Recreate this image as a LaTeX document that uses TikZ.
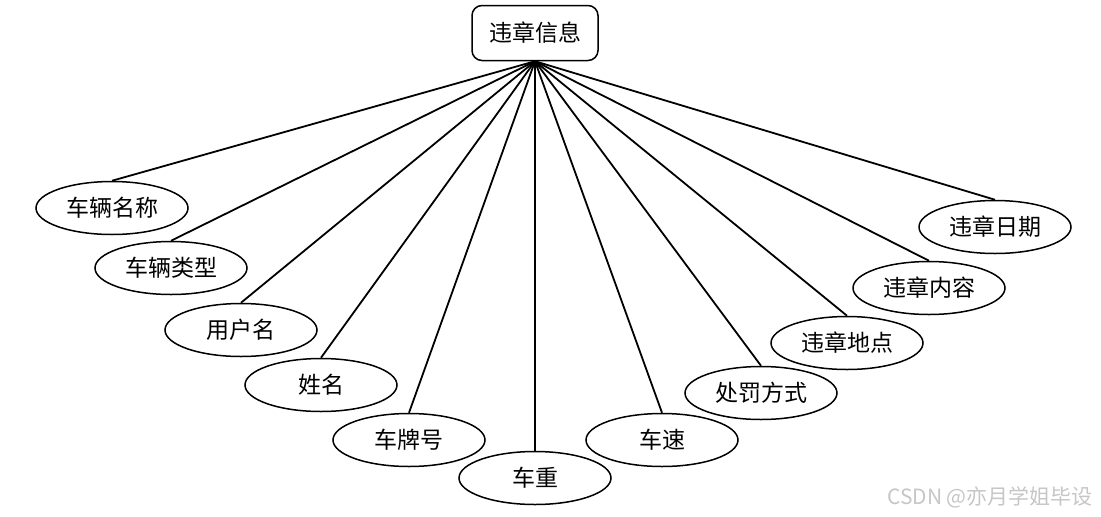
\documentclass[tikz,border=0pt]{standalone}
\usepackage{fontspec}
\newfontfamily\cjk{Noto Sans CJK SC}
\usetikzlibrary{positioning, shapes.geometric}

\begin{document}
\begin{tikzpicture}[
  x=1pt, y=-1pt,
  font=\cjk\fontsize{23}{27}\selectfont,
  entity/.style = {draw, line width=1.5pt, rounded corners=10pt,
                   minimum width=126pt, minimum height=55pt, align=center},
  attr/.style = {draw, ellipse, line width=1.5pt, inner sep=0pt,
                 minimum width=152pt, minimum height=53pt, fill=white},
  link/.style = {line width=1.8pt}
]

\useasboundingbox (0,0) rectangle (1101,517);

% Entity
\node[entity] (violation) at (535,33) {违章信息};

% Attributes
\node[attr] (car_name)   at (112,208) {车辆名称};
\node[attr] (car_type)   at (171,268) {车辆类型};
\node[attr] (user_name)  at (241,330) {用户名};
\node[attr] (real_name)  at (321,385) {姓名};
\node[attr] (plate)      at (409,440) {车牌号};
\node[attr] (weight)     at (535,478) {车重};
\node[attr] (speed)      at (662,440) {车速};
\node[attr] (penalty)    at (761,393) {处罚方式};
\node[attr] (place)      at (847,343) {违章地点};
\node[attr] (content)    at (929,288) {违章内容};
\node[attr] (date)       at (995,227) {违章日期};

% Links
\draw[link] (violation.south) -- (car_name.north);
\draw[link] (violation.south) -- (car_type.north);
\draw[link] (violation.south) -- (user_name.north);
\draw[link] (violation.south) -- (real_name.north);
\draw[link] (violation.south) -- (plate.north);
\draw[link] (violation.south) -- (weight.north);
\draw[link] (violation.south) -- (speed.north);
\draw[link] (violation.south) -- (penalty.north);
\draw[link] (violation.south) -- (place.north);
\draw[link] (violation.south) -- (content.north);
\draw[link] (violation.south) -- (date.north);

% Watermark
\node[text=gray!45, font=\cjk\fontsize{21}{24}\selectfont] (mark) at (990,497) {CSDN @亦月学姐毕设};

\end{tikzpicture}
\end{document}
